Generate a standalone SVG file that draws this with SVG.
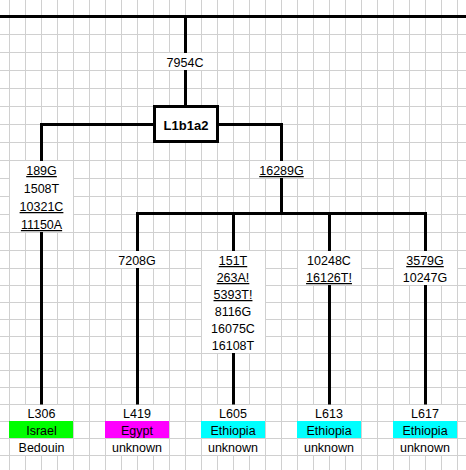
<svg xmlns="http://www.w3.org/2000/svg" width="466" height="470" viewBox="0 0 466 470">
<style>
.grid{stroke:#d0d0d0;stroke-width:1;fill:none}
.conn{stroke:#000;stroke-width:3;fill:none;stroke-linecap:square}
.bg{fill:#fff}
.t{font-family:"Liberation Sans",Arial,sans-serif;font-size:12.5px;fill:#000;text-anchor:middle}
.u{text-decoration:underline}
.b{font-weight:bold;font-size:13px}
.box{fill:#fff;stroke:#000;stroke-width:3}
</style>
<rect width="466" height="470" fill="#fff"/>
<g id="grid">
<path class="grid" d="M9.5 0V470M25.5 0V470M41.5 0V470M57.5 0V470M73.5 0V470M89.5 0V470M105.5 0V470M121.5 0V470M137.5 0V470M153.5 0V470M169.5 0V470M185.5 0V470M201.5 0V470M217.5 0V470M233.5 0V470M249.5 0V470M265.5 0V470M281.5 0V470M297.5 0V470M313.5 0V470M329.5 0V470M345.5 0V470M361.5 0V470M377.5 0V470M393.5 0V470M409.5 0V470M425.5 0V470M441.5 0V470M457.5 0V470"/>
<path class="grid" d="M0 16.5H466M0 34.5H466M0 52.5H466M0 70.5H466M0 88.5H466M0 106.5H466M0 124.5H466M0 142.5H466M0 160.5H466M0 178.5H466M0 196.5H466M0 214.5H466M0 232.5H466M0 250.5H466M0 268.5H466M0 285.5H466M0 302.5H466M0 319.5H466M0 336.5H466M0 353.5H466M0 370.5H466M0 387.5H466M0 404.5H466M0 421.5H466M0 438.5H466M0 455.5H466"/>
</g>
<g id="connectors">
<path class="conn" d="M0 16.5H466"/>
<path class="conn" d="M185.5 16.5V106"/>
<path class="conn" d="M153 124.5H41.5V403"/>
<path class="conn" d="M219 124.5H281.5V213.5"/>
<path class="conn" d="M137.5 213.5H425.5"/>
<path class="conn" d="M137.5 213.5V403"/>
<path class="conn" d="M233.5 213.5V403"/>
<path class="conn" d="M329.5 213.5V403"/>
<path class="conn" d="M425.5 213.5V403"/>
</g>
<g id="edge-labels">
<rect class="bg" x="154" y="53" width="63" height="17"/>
<text class="t" x="185" y="66.5">7954C</text>
<rect class="bg" x="10" y="161" width="63" height="71"/>
<text class="t u" x="41.5" y="175">189G</text>
<text class="t" x="41.5" y="193">1508T</text>
<text class="t u" x="41.5" y="211">10321C</text>
<text class="t u" x="41.5" y="229">11150A</text>
<rect class="bg" x="250" y="161" width="63" height="17"/>
<text class="t u" x="281.5" y="175">16289G</text>
<rect class="bg" x="106" y="251" width="63" height="17"/>
<text class="t" x="137" y="265">7208G</text>
<rect class="bg" x="202" y="251" width="63" height="102"/>
<text class="t u" x="233" y="265">151T</text>
<text class="t u" x="233" y="282">263A!</text>
<text class="t u" x="233" y="299">5393T!</text>
<text class="t" x="233" y="316">8116G</text>
<text class="t" x="233" y="333">16075C</text>
<text class="t" x="233" y="350">16108T</text>
<rect class="bg" x="298" y="251" width="63" height="34"/>
<text class="t" x="329" y="265">10248C</text>
<text class="t u" x="329" y="282">16126T!</text>
<rect class="bg" x="394" y="251" width="63" height="34"/>
<text class="t u" x="425" y="265">3579G</text>
<text class="t" x="425" y="282">10247G</text>
</g>
<g id="node-L1b1a2">
<rect class="box" x="154.5" y="106.5" width="63" height="35"/>
<text class="t b" x="186" y="130">L1b1a2</text>
</g>
<g id="node-L306">
<rect class="bg" x="10" y="405" width="63" height="16"/>
<rect x="9" y="421" width="64" height="17" fill="#00ff00"/>
<rect class="bg" x="10" y="439" width="63" height="16"/>
<text class="t" x="41.5" y="418">L306</text>
<text class="t" x="41.5" y="435">Israel</text>
<text class="t" x="41.5" y="452">Bedouin</text>
</g>
<g id="node-L419">
<rect class="bg" x="106" y="405" width="63" height="16"/>
<rect x="105" y="421" width="64" height="17" fill="#ff00ff"/>
<rect class="bg" x="106" y="439" width="63" height="16"/>
<text class="t" x="137" y="418">L419</text>
<text class="t" x="137" y="435">Egypt</text>
<text class="t" x="137" y="452">unknown</text>
</g>
<g id="node-L605">
<rect class="bg" x="202" y="405" width="63" height="16"/>
<rect x="201" y="421" width="64" height="17" fill="#00ffff"/>
<rect class="bg" x="202" y="439" width="63" height="16"/>
<text class="t" x="233" y="418">L605</text>
<text class="t" x="233" y="435">Ethiopia</text>
<text class="t" x="233" y="452">unknown</text>
</g>
<g id="node-L613">
<rect class="bg" x="298" y="405" width="63" height="16"/>
<rect x="297" y="421" width="64" height="17" fill="#00ffff"/>
<rect class="bg" x="298" y="439" width="63" height="16"/>
<text class="t" x="329" y="418">L613</text>
<text class="t" x="329" y="435">Ethiopia</text>
<text class="t" x="329" y="452">unknown</text>
</g>
<g id="node-L617">
<rect class="bg" x="394" y="405" width="63" height="16"/>
<rect x="393" y="421" width="64" height="17" fill="#00ffff"/>
<rect class="bg" x="394" y="439" width="63" height="16"/>
<text class="t" x="425" y="418">L617</text>
<text class="t" x="425" y="435">Ethiopia</text>
<text class="t" x="425" y="452">unknown</text>
</g>
</svg>
